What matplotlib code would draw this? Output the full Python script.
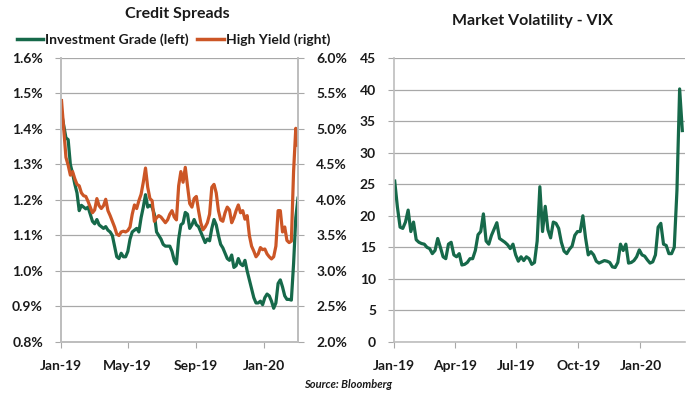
import matplotlib
matplotlib.use("Agg")
import matplotlib.pyplot as plt
import matplotlib.dates as mdates
from matplotlib.lines import Line2D
import pandas as pd

plt.rcParams["font.family"] = ["Lato", "DejaVu Sans"]

# roughly twice-weekly observations, Jan-2019 to early Mar-2020
dates = pd.date_range("2019-01-02", "2020-03-03", periods=108)

# investment grade spread (%), left axis
ig = [1.445, 1.41, 1.375, 1.37, 1.30, 1.275, 1.245, 1.22, 1.17, 1.185,
      1.18, 1.175, 1.18, 1.16, 1.14, 1.133, 1.145, 1.13, 1.125, 1.12,
      1.125, 1.115, 1.11, 1.10, 1.07, 1.04, 1.035, 1.05, 1.04, 1.04,
      1.055, 1.09, 1.11, 1.115, 1.12, 1.11, 1.15, 1.18, 1.215, 1.18,
      1.185, 1.18, 1.16, 1.11, 1.10, 1.09, 1.075, 1.07, 1.07, 1.07,
      1.055, 1.03, 1.02, 1.09, 1.13, 1.135, 1.165, 1.16, 1.12, 1.13,
      1.145, 1.13, 1.125, 1.11, 1.095, 1.08, 1.09, 1.085, 1.12, 1.145,
      1.13, 1.10, 1.075, 1.065, 1.05, 1.035, 1.03, 1.045, 1.01, 1.015,
      1.035, 1.02, 1.015, 1.03, 1.0, 0.975, 0.95, 0.925, 0.91, 0.91,
      0.915, 0.905, 0.925, 0.935, 0.93, 0.915, 0.895, 0.91, 0.965, 0.975,
      0.955, 0.93, 0.92, 0.92, 0.918, 1.02, 1.15, 1.205]

# high yield spread (%), right axis
hy = [5.40, 5.0, 4.6, 4.49, 4.35, 4.40, 4.30, 4.22, 4.20, 4.10,
      4.06, 4.05, 3.98, 3.90, 3.82, 3.86, 4.02, 3.92, 3.88, 3.92,
      4.01, 3.85, 3.78, 3.70, 3.62, 3.52, 3.50, 3.55, 3.56, 3.55,
      3.57, 3.62, 3.80, 3.93, 3.88, 3.99, 4.08, 4.25, 4.45, 4.18,
      4.02, 3.99, 3.70, 3.75, 3.78, 3.76, 3.72, 3.68, 3.72, 3.80,
      3.85, 3.76, 3.72, 4.20, 4.40, 4.25, 4.46, 4.20, 3.95, 3.90,
      4.02, 4.05, 3.85, 3.68, 3.58, 3.62, 3.68, 3.80, 4.18, 4.22,
      4.10, 3.85, 3.72, 3.70, 3.82, 3.90, 3.86, 3.68, 3.75, 3.85,
      3.93, 3.82, 3.85, 3.73, 3.78, 3.50, 3.35, 3.28, 3.20, 3.24,
      3.33, 3.30, 3.31, 3.24, 3.20, 3.17, 3.20, 3.35, 3.85, 3.85,
      3.55, 3.62, 3.43, 3.40, 3.42, 4.40, 5.01, 4.77]

# VIX index level
vix = [25.5, 21.4, 18.2, 18.0, 19.0, 20.9, 17.5, 19.0, 16.2, 15.8,
       15.6, 15.5, 15.0, 14.8, 14.0, 14.5, 16.4, 15.0, 13.5, 13.2,
       15.5, 15.8, 13.8, 13.5, 14.0, 12.2, 12.3, 12.6, 13.2, 13.2,
       14.5, 17.0, 17.5, 20.3, 16.0, 15.5, 16.9, 17.9, 18.9, 16.4,
       16.1, 15.8, 15.4, 14.8, 15.5, 13.8, 12.8, 13.5, 12.9, 13.5,
       13.2, 12.3, 12.6, 16.0, 24.6, 17.5, 21.5, 17.8, 16.5, 19.0,
       18.8, 18.0, 15.8, 14.4, 14.0, 14.7, 15.2, 16.9, 17.5, 17.5,
       20.0, 16.5, 13.8, 14.3, 13.8, 12.8, 12.5, 12.7, 12.9, 12.8,
       12.6, 11.9, 11.8, 12.6, 15.5, 14.5, 15.5, 12.5, 12.6, 12.9,
       13.5, 14.6, 13.8, 13.6, 13.0, 12.5, 12.7, 13.8, 18.2, 18.8,
       15.5, 15.3, 14.0, 14.0, 15.0, 24.0, 40.1, 33.5]

GREEN = "#16694a"
ORANGE = "#cc5626"
GRID = "#a8a8a8"
SPINE = "#bdbdbd"
TXT = "#1a1a1a"


def style_ticks(ax):
    ax.tick_params(axis="y", length=4, color=GRID, pad=9,
                   labelsize=10, labelcolor=TXT)
    ax.tick_params(axis="x", length=4, color=GRID, pad=9,
                   labelsize=10, labelcolor=TXT)
    for lab in ax.get_yticklabels() + ax.get_xticklabels():
        lab.set_fontweight("bold")


fig = plt.figure(figsize=(7, 3.94), dpi=100)

# ---- left panel: credit spreads -------------------------------------
ax1 = fig.add_axes([0.0871, 0.132, 0.3386, 0.7208])
ax1.plot(dates, ig, color=GREEN, lw=2.3, solid_joinstyle="round")
ax1.set_ylim(0.8, 1.6)
ax1.set_yticks([0.8 + 0.1 * k for k in range(9)])
ax1.yaxis.set_major_formatter(plt.FuncFormatter(lambda v, p: f"{v:.1f}%"))
ax1.set_xlim(pd.Timestamp("2019-01-01"), pd.Timestamp("2020-03-03"))
ax1.xaxis.set_major_locator(mdates.MonthLocator(bymonth=[1, 5, 9]))
ax1.xaxis.set_major_formatter(mdates.DateFormatter("%b-%y"))
ax1.grid(axis="y", color=GRID, lw=0.9)
ax1.set_axisbelow(True)

ax2 = ax1.twinx()
ax2.plot(dates, hy, color=ORANGE, lw=2.3, solid_joinstyle="round")
ax2.set_ylim(2.0, 6.0)
ax2.set_yticks([2.0 + 0.5 * k for k in range(9)])
ax2.yaxis.set_major_formatter(plt.FuncFormatter(lambda v, p: f"{v:.1f}%"))

for ax in (ax1, ax2):
    ax.spines["top"].set_visible(False)
    for s in ("left", "right", "bottom"):
        ax.spines[s].set_color(SPINE)
        ax.spines[s].set_linewidth(1.2)
    style_ticks(ax)

fig.text(0.254, 0.965, "Credit Spreads", ha="center", va="center",
         fontsize=11.5, fontweight="bold", color=TXT)

handles = [Line2D([], [], color=GREEN, lw=2.5),
           Line2D([], [], color=ORANGE, lw=2.5)]
leg = fig.legend(handles, ["Investment Grade (left)", "High Yield (right)"],
                 loc="center", bbox_to_anchor=(0.248, 0.899), ncol=2,
                 frameon=False, handlelength=1.9, handletextpad=0.15,
                 columnspacing=0.6, prop={"weight": "bold", "size": 10})
for t in leg.get_texts():
    t.set_color(TXT)

# ---- right panel: VIX -----------------------------------------------
ax3 = fig.add_axes([0.5629, 0.132, 0.4157, 0.7208])
ax3.plot(dates, vix, color=GREEN, lw=2.3, solid_joinstyle="round")
ax3.set_ylim(0, 45)
ax3.set_yticks(range(0, 46, 5))
ax3.set_xlim(pd.Timestamp("2019-01-01"), pd.Timestamp("2020-03-07"))
ax3.xaxis.set_major_locator(mdates.MonthLocator(bymonth=[1, 4, 7, 10]))
ax3.xaxis.set_major_formatter(mdates.DateFormatter("%b-%y"))
ax3.grid(axis="y", color=GRID, lw=0.9)
ax3.set_axisbelow(True)
ax3.spines["top"].set_visible(False)
ax3.spines["right"].set_visible(False)
for s in ("left", "bottom"):
    ax3.spines[s].set_color(SPINE)
    ax3.spines[s].set_linewidth(1.2)
style_ticks(ax3)

fig.text(0.761, 0.946, "Market Volatility - VIX", ha="center", va="center",
         fontsize=11.5, fontweight="bold", color=TXT)

fig.text(0.497, 0.024, "Source: Bloomberg", ha="center", va="center",
         fontsize=8, fontweight="bold", fontstyle="italic", color=TXT)

fig.savefig("out.png", dpi=100)
